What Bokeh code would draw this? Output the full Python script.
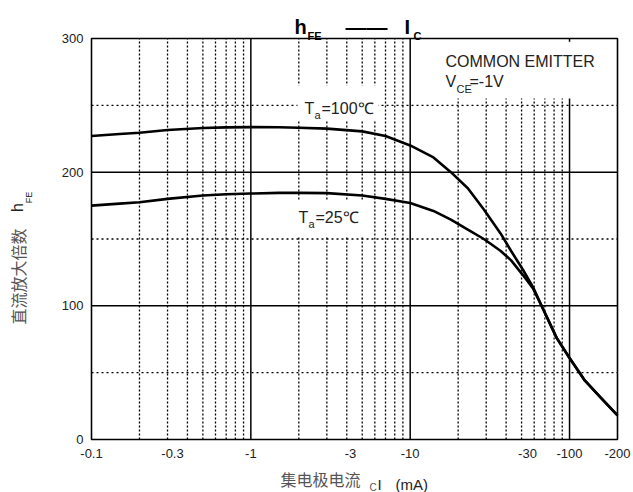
from math import pi
from bokeh.plotting import figure
from bokeh.models import Label, BoxAnnotation, Range1d
from bokeh.core.properties import value
from bokeh.embed import file_html
from bokeh.resources import INLINE

# ---------------- data ----------------
IC_MA = [0.1, 0.15, 0.2, 0.3, 0.5, 0.7, 1, 1.5, 2, 3, 5, 7, 10, 14, 18, 23,
         29, 37, 43, 51, 59, 68, 83, 100, 125, 158, 200]
HFE_100C = [227, 228.5, 229.5, 231.5, 233, 233.5, 233.7, 233.6, 233.2, 232.6,
            230.5, 227, 220, 211, 200, 188, 172, 154, 141, 127, 114, 98, 76,
            61, 44, 31, 18]
HFE_25C = [175, 176.5, 177.5, 180, 182.5, 183.5, 184, 184.5, 184.5, 184.3,
           182.5, 180, 177, 171, 164.5, 157, 150, 141, 134, 123, 113, 98, 76,
           61, 44, 31, 18]
X_TICK_LABELS = ["-0.1", "-0.3", "-1", "-3", "-10", "-30", "-100", "-200"]
Y_TICKS = [0, 100, 200, 300]
Y_TICK_LABELS = ["0", "100", "200", "300"]

# ---------------- layout ----------------
W, H = 633, 492
FX0, FX1 = 91, 617          # plot box, canvas pixels
FY0, FY1 = 439, 38
XMIN, XMAX = 0.1, 200.0
YMIN, YMAX = 0.0, 300.0


def px_x(px):
    return XMIN * (XMAX / XMIN) ** ((px - FX0) / (FX1 - FX0))


def px_y(py):
    return YMIN + (YMAX - YMIN) * (FY0 - py) / (FY0 - FY1)


# the frame covers the whole canvas so that texts in the margins are drawn
p = figure(width=W, height=H, x_axis_type="log",
           x_range=Range1d(px_x(0), px_x(W)), y_range=Range1d(px_y(H), px_y(0)),
           output_backend="svg", toolbar_location=None,
           x_axis_location=None, y_axis_location=None, min_border=0,
           background_fill_color="white", border_fill_color="white")
p.outline_line_color = None
p.xgrid.visible = False
p.ygrid.visible = False

# ---------------- grid ----------------
full_minor = [d * m for d in (0.1, 1.0) for m in range(2, 10)]
part_minor = [10.0 * m for m in range(2, 10)]
top_part = px_y(98)
p.segment(x0=full_minor, y0=[YMIN] * len(full_minor), x1=full_minor,
          y1=[YMAX] * len(full_minor), line_color="black", line_width=1.3,
          line_dash="2 2")
p.segment(x0=part_minor, y0=[YMIN] * len(part_minor), x1=part_minor,
          y1=[top_part] * len(part_minor), line_color="black", line_width=1.3,
          line_dash="2 2")
p.segment(x0=[1.0, 10.0, 100.0, 100.0], y0=[YMIN, YMIN, YMIN, 297.5],
          x1=[1.0, 10.0, 100.0, 100.0], y1=[YMAX, YMAX, top_part, YMAX],
          line_color="black", line_width=1.5)
p.segment(x0=[XMIN, XMIN], y0=[100, 200], x1=[XMAX, XMAX], y1=[100, 200],
          line_color="black", line_width=1.5)
p.segment(x0=[XMIN] * 3, y0=[50, 150, 250], x1=[XMAX] * 3, y1=[50, 150, 250],
          line_color="black", line_width=1.4, line_dash="2 3")
# plot box
p.quad(left=[XMIN], right=[XMAX], bottom=[YMIN], top=[YMAX], fill_color=None,
       line_color="black", line_width=1.6)

# ---------------- tick labels ----------------
xt = [XMIN, px_x(172), 1.0, px_x(350), 10.0, px_x(527), 100.0, XMAX]
p.text(x=xt, y=[px_y(453)] * len(xt), text=X_TICK_LABELS,
       text_font=value("Liberation Sans"), text_font_size="13px",
       text_color="#222222", text_align="center", text_baseline="middle")
p.text(x=[px_x(83)] * len(Y_TICKS), y=Y_TICKS, text=Y_TICK_LABELS,
       text_font=value("Liberation Sans"), text_font_size="13px",
       text_color="#222222", text_align="right", text_baseline="middle")

# ---------------- curves ----------------
p.line(IC_MA, HFE_100C, line_color="black", line_width=2.6, line_join="round")
p.line(IC_MA, HFE_25C, line_color="black", line_width=2.6, line_join="round")

# white gaps behind the curve labels
for l, r, t, b in ((297, 378, 85, 120), (294, 372, 200, 236)):
    p.add_layout(BoxAnnotation(left=px_x(l), right=px_x(r), top=px_y(t),
                               bottom=px_y(b), fill_color="white",
                               fill_alpha=1.0, line_color=None))


def lab(px, py, text, size, bold=False, color="#222222", align="left",
        baseline="alphabetic", angle=0.0, font="Liberation Sans"):
    p.add_layout(Label(x=px_x(px), y=px_y(py), text=text,
                       text_font=font, text_font_size=f"{size}px",
                       text_font_style="bold" if bold else "normal",
                       text_color=color, text_align=align,
                       text_baseline=baseline, angle=angle, level="overlay"))


# curve labels
lab(304, 108, "T", 16)
lab(314, 114, "a", 11)
lab(321, 108, "=100℃", 16)
lab(298, 217, "T", 16)
lab(308, 223, "a", 11)
lab(315, 217, "=25℃", 16)

# condition text
lab(445, 61, "COMMON EMITTER", 16)
lab(445, 81, "V", 16)
lab(456, 88, "CE", 11)
lab(469, 81, "=-1V", 16)

# title
lab(294, 26, "h", 20, bold=True, color="black")
lab(307, 35, "FE", 11, bold=True, color="black")
lab(366, 26, "——", 21, bold=True, color="black", align="center")
lab(404, 26, "I", 20, bold=True, color="black")
lab(413, 35, "C", 11, bold=True, color="black")

# y axis title (rotated)
lab(17, 276, "直流放大倍数", 16, color="#555555", align="center",
    baseline="middle", angle=pi / 2, font="Noto Sans CJK SC")
lab(17, 207, "h", 16, color="#222222", align="center", baseline="middle",
    angle=pi / 2)
lab(28, 197, "FE", 9, color="#222222", align="center", baseline="middle",
    angle=pi / 2)

# x axis title
lab(320, 478, "集电极电流", 16, color="#555555", align="center",
    baseline="middle", font="Noto Sans CJK SC")
lab(369, 487, "C", 10, color="#555555")
lab(377, 484, "I", 15, color="#222222")
lab(395, 484, "(mA)", 15, color="#222222")

open("out.html", "w").write(file_html(p, INLINE))
